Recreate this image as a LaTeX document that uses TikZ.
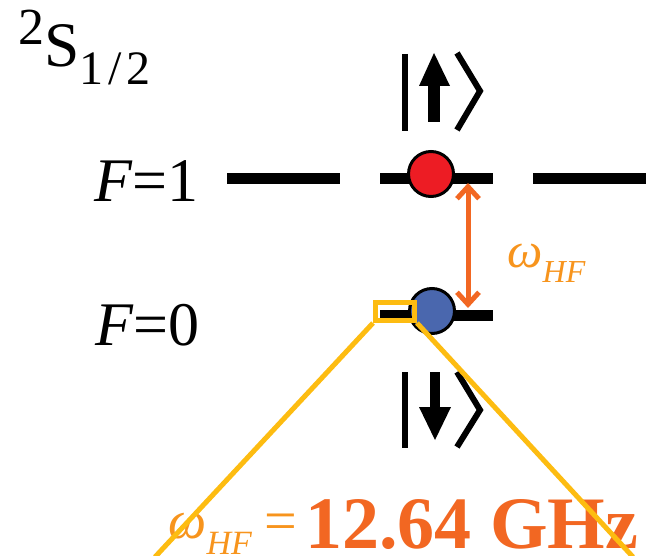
\documentclass[tikz,border=0pt]{standalone}
\usepackage{fontspec}
\setmainfont{Liberation Serif}
\usetikzlibrary{arrows.meta, positioning}

\definecolor{hfdark}{RGB}{242,103,34}
\definecolor{hflight}{RGB}{247,148,29}
\definecolor{zoomyel}{RGB}{253,188,17}
\definecolor{ionred}{RGB}{237,28,36}
\definecolor{ionblue}{RGB}{74,103,174}

\begin{document}
\begin{tikzpicture}[
    x=0.5pt, y=-0.5pt,
    level/.style={line width=5.5pt},
    ion/.style={draw, circle, line width=1.5pt, minimum size=22.5pt, inner sep=0pt},
    ket/.style={line width=3pt},
    lvltext/.style={anchor=base east, inner sep=0pt, font=\fontsize{31}{31}\selectfont},
    zoombox/.style={draw=zoomyel, line width=2.5pt, inner sep=0pt, minimum width=19.5pt, minimum height=9pt},
    zoomline/.style={draw=zoomyel, line width=2.5pt},
    split/.style={{Straight Barb[length=6pt,width=11pt]}-{Straight Barb[length=6pt,width=11pt]}, line width=2.5pt, draw=hfdark}
]
\useasboundingbox (0,0) rectangle (663,556);

% Nodes
\node[anchor=base west, inner sep=0pt] (term) at (18,67) {{\fontsize{26}{26}\selectfont\raisebox{11pt}{2}}{\fontsize{31.7}{32}\selectfont S}{\fontsize{24}{24}\selectfont\raisebox{-9pt}{1\kern2.5pt/\kern2.5pt2}}};
\node[lvltext] (f1) at (199,201) {\textit{F}=1};
\node[lvltext] (f0) at (200,345) {\textit{F}=0};

% Levels
\draw[level] (227,178) -- (340,178);
\draw[level] (380,178) -- (493,178);
\draw[level] (533,178) -- (646,178);
\draw[level] (380,315) -- (493,315);

\node[ion, fill=ionred] (upion) at (431,174) {};
\node[ion, fill=ionblue] (downion) at (432,311) {};

% Kets
\draw[ket] (405,54) -- (405,131);
\fill (428,122) rectangle (440,85);
\fill (419,86) -- (450,86) -- (434,53) -- cycle;
\draw[ket] (457,53) -- (480,91) -- (457,130);

\draw[ket] (405,372) -- (405,448);
\fill (430,372) rectangle (440,408);
\fill (419,407) -- (451,407) -- (435,440) -- cycle;
\draw[ket] (457,372) -- (480,410) -- (457,447);

% Splitting
\coordinate (top) at (468,183);
\coordinate (bot) at (468,308);
\draw[split] (top) -- (bot);
\node[text=hflight, anchor=base west, inner sep=0pt] (whf) at (507,267) {\fontsize{25}{25}\selectfont\textit{ω}\raisebox{-7.5pt}{\fontsize{16}{16}\selectfont\textit{HF}}};

% Value
\node[text=hflight, anchor=base west, inner sep=0pt] (whfval) at (168,538) {\fontsize{27}{27}\selectfont\textit{ω}\raisebox{-8pt}{\fontsize{17}{17}\selectfont\textit{HF}}};
\node[text=hflight, anchor=base, inner sep=0pt] (eq) at (281,540) {\fontsize{29}{29}\selectfont=};
\node[text=hfdark, anchor=base west, inner sep=0pt] (freq) at (305,548) {\fontsize{37}{37}\selectfont\bfseries 12.64 GHz};

% Zoom
\node[zoombox] (zoom) at (395,311.5) {};
\coordinate (zl) at (155,557);
\coordinate (zr) at (633,557);
\draw[zoomline] (zoom.south west) -- (zl);
\draw[zoomline] (zoom.south east) -- (zr);

\end{tikzpicture}
\end{document}
